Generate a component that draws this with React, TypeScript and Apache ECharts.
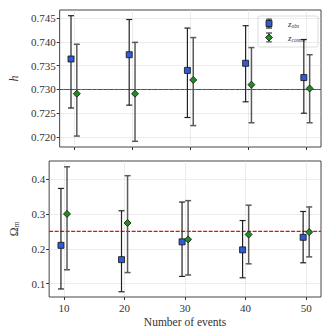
import React, { useEffect, useRef } from "react";
import * as echarts from "echarts";

const xEvents = [10, 20, 30, 40, 50];
const xTicks = [10, 20, 30, 40, 50];
const hTicks = [0.72, 0.725, 0.73, 0.735, 0.74, 0.745];
const omTicks = [0.1, 0.2, 0.3, 0.4];

const hObs = [0.7364, 0.7373, 0.734, 0.7355, 0.7325];
const hObsLo = [0.7261, 0.7267, 0.7241, 0.7274, 0.725];
const hObsHi = [0.7455, 0.7447, 0.7429, 0.7434, 0.7405];
const hCos = [0.7291, 0.7291, 0.732, 0.731, 0.7302];
const hCosLo = [0.7202, 0.7191, 0.7224, 0.723, 0.723];
const hCosHi = [0.7395, 0.7399, 0.7409, 0.7388, 0.7373];

const omObs = [0.21, 0.169, 0.22, 0.197, 0.233];
const omObsLo = [0.085, 0.077, 0.121, 0.117, 0.16];
const omObsHi = [0.373, 0.309, 0.334, 0.281, 0.307];
const omCos = [0.3, 0.274, 0.227, 0.241, 0.248];
const omCosLo = [0.14, 0.132, 0.125, 0.157, 0.177];
const omCosHi = [0.435, 0.4095, 0.338, 0.325, 0.32];

const hTrue = 0.73;
const omTrue = 0.25;
const offset = 0.5;

const FONT = "Liberation Serif";
const BLUE = "#2f5cd6";
const GREEN = "#1e8c1e";
const RED = "#e01010";

function errData(lo: number[], hi: number[], dx: number) {
  return xEvents.map((x, i) => [x + dx, lo[i], hi[i]]);
}
function ptData(vals: number[], dx: number) {
  return xEvents.map((x, i) => [x + dx, vals[i]]);
}

function errSeries(data: number[][], idx: number, color: string, width: number) {
  return {
    type: "custom",
    xAxisIndex: idx,
    yAxisIndex: idx,
    data,
    z: 3,
    renderItem: (params: any, api: any) => {
      const x = api.value(0);
      const p1 = api.coord([x, api.value(1)]);
      const p2 = api.coord([x, api.value(2)]);
      const cw = 3;
      const style = { stroke: color, lineWidth: width };
      return {
        type: "group",
        children: [
          { type: "line", shape: { x1: p1[0], y1: p1[1], x2: p2[0], y2: p2[1] }, style },
          { type: "line", shape: { x1: p1[0] - cw, y1: p1[1], x2: p1[0] + cw, y2: p1[1] }, style },
          { type: "line", shape: { x1: p2[0] - cw, y1: p2[1], x2: p2[0] + cw, y2: p2[1] }, style },
        ],
      };
    },
  };
}

function refLine(idx: number, y: number, withDark: boolean) {
  return {
    type: "custom",
    xAxisIndex: idx,
    yAxisIndex: idx,
    data: [[20, y]],
    z: 2,
    silent: true,
    renderItem: (params: any, api: any) => {
      const cs = params.coordSys;
      const p = api.coord([api.value(0), api.value(1)]);
      const children: any[] = [];
      if (withDark) {
        children.push({
          type: "line",
          shape: { x1: cs.x, y1: p[1], x2: cs.x + cs.width, y2: p[1] },
          style: { stroke: "#3a4a4a", lineWidth: 0.9, lineDash: [1.5, 4], lineDashOffset: -4 },
        });
      }
      children.push({
        type: "line",
        shape: { x1: cs.x, y1: p[1], x2: cs.x + cs.width, y2: p[1] },
        style: { stroke: RED, lineWidth: 1.1, lineDash: [4, 1.5] },
      });
      return { type: "group", children };
    },
  };
}

function xAxisCfg(idx: number, showLabels: boolean) {
  return {
    type: "value",
    gridIndex: idx,
    min: 7.55,
    max: 52.45,
    axisLine: { show: false },
    axisTick: { show: true, length: 3, customValues: xTicks, lineStyle: { color: "#333" } },
    splitLine: { show: true, lineStyle: { color: "#d0d0d0", type: "dotted", width: 0.8 } },
    axisLabel: {
      show: showLabels,
      customValues: xTicks,
      fontFamily: FONT,
      fontSize: 11,
      color: "#333",
      margin: 5,
    },
    name: showLabels ? "Number of events" : "",
    nameLocation: "middle",
    nameGap: 19,
    nameTextStyle: { fontFamily: FONT, fontSize: 11.5, color: "#333" },
  };
}

export default function App() {
  const ref = useRef<HTMLDivElement>(null);
  useEffect(() => {
    if (!ref.current) return;
    const chart = echarts.init(ref.current, null, { renderer: "svg" });
    const subRich = {
      i: { fontFamily: FONT, fontStyle: "italic", fontSize: 9, fill: "#333" },
      s: { fontFamily: FONT, fontStyle: "italic", fontSize: 5.5, fill: "#333", padding: [4, 0, 0, 0] },
    };
    const option: any = {
      animation: false,
      grid: [
        { left: 46, top: 10, width: 275, height: 137, show: true, borderColor: "#444", borderWidth: 1, backgroundColor: "transparent" },
        { left: 46, top: 161, width: 275, height: 136, show: true, borderColor: "#444", borderWidth: 1, backgroundColor: "transparent" },
      ],
      xAxis: [xAxisCfg(0, false), xAxisCfg(1, true)],
      yAxis: [
        {
          type: "value",
          gridIndex: 0,
          min: 0.7179,
          max: 0.7467,
          axisLine: { show: false },
          axisTick: { show: true, length: 3, customValues: hTicks, lineStyle: { color: "#333" } },
          splitLine: { show: true, lineStyle: { color: "#d0d0d0", type: "dotted", width: 0.8 } },
          axisLabel: {
            customValues: hTicks,
            fontFamily: FONT,
            fontSize: 11,
            color: "#333",
            margin: 4,
            formatter: (v: number) => v.toFixed(3),
          },
          name: "{i|h}",
          nameLocation: "middle",
          nameRotate: 90,
          nameGap: 32,
          nameTextStyle: { rich: { i: { fontFamily: FONT, fontStyle: "italic", fontSize: 12, color: "#333" } } },
        },
        {
          type: "value",
          gridIndex: 1,
          min: 0.062,
          max: 0.4516,
          axisLine: { show: false },
          axisTick: { show: true, length: 3, customValues: omTicks, lineStyle: { color: "#333" } },
          splitLine: { show: true, lineStyle: { color: "#d0d0d0", type: "dotted", width: 0.8 } },
          axisLabel: {
            customValues: omTicks,
            fontFamily: FONT,
            fontSize: 11,
            color: "#333",
            margin: 4,
            formatter: (v: number) => v.toFixed(1),
          },
          name: "{o|Ω}{s|m}",
          nameLocation: "middle",
          nameRotate: 90,
          nameGap: 22,
          nameTextStyle: {
            rich: {
              o: { fontFamily: FONT, fontSize: 12, color: "#333" },
              s: { fontFamily: FONT, fontStyle: "italic", fontSize: 8, color: "#333", padding: [5, 0, 0, 0] },
            },
          },
        },
      ],
      series: [
        refLine(0, hTrue, true),
        refLine(1, omTrue, false),
        errSeries(errData(hObsLo, hObsHi, -offset), 0, "#222", 1.2),
        errSeries(errData(hCosLo, hCosHi, offset), 0, "#5a5a5a", 1.5),
        errSeries(errData(omObsLo, omObsHi, -offset), 1, "#222", 1.2),
        errSeries(errData(omCosLo, omCosHi, offset), 1, "#5a5a5a", 1.5),
        {
          type: "scatter", xAxisIndex: 0, yAxisIndex: 0, z: 4,
          data: ptData(hObs, -offset), symbol: "rect", symbolSize: 6,
          itemStyle: { color: BLUE, borderColor: "#111", borderWidth: 0.8, opacity: 1 },
        },
        {
          type: "scatter", xAxisIndex: 0, yAxisIndex: 0, z: 4,
          data: ptData(hCos, offset), symbol: "diamond", symbolSize: 7,
          itemStyle: { color: GREEN, borderColor: "#111", borderWidth: 0.8, opacity: 1 },
        },
        {
          type: "scatter", xAxisIndex: 1, yAxisIndex: 1, z: 4,
          data: ptData(omObs, -offset), symbol: "rect", symbolSize: 6,
          itemStyle: { color: BLUE, borderColor: "#111", borderWidth: 0.8, opacity: 1 },
        },
        {
          type: "scatter", xAxisIndex: 1, yAxisIndex: 1, z: 4,
          data: ptData(omCos, offset), symbol: "diamond", symbolSize: 7,
          itemStyle: { color: GREEN, borderColor: "#111", borderWidth: 0.8, opacity: 1 },
        },
      ],
      graphic: [
        {
          type: "group",
          z: 100,
          children: [
            { type: "rect", shape: { x: 258, y: 16, width: 60, height: 31, r: 2 }, style: { fill: "rgba(255,255,255,0.85)", stroke: "#dddddd", lineWidth: 1 } },
            { type: "line", shape: { x1: 269, y1: 19, x2: 269, y2: 28 }, style: { stroke: "#222", lineWidth: 1.2 } },
            { type: "line", shape: { x1: 266, y1: 19, x2: 272, y2: 19 }, style: { stroke: "#222", lineWidth: 1.2 } },
            { type: "line", shape: { x1: 266, y1: 28, x2: 272, y2: 28 }, style: { stroke: "#222", lineWidth: 1.2 } },
            { type: "rect", shape: { x: 266, y: 20.5, width: 6, height: 6 }, style: { fill: BLUE, stroke: "#111", lineWidth: 0.8 } },
            { type: "line", shape: { x1: 269, y1: 33, x2: 269, y2: 42 }, style: { stroke: "#5a5a5a", lineWidth: 1.4 } },
            { type: "line", shape: { x1: 266, y1: 33, x2: 272, y2: 33 }, style: { stroke: "#5a5a5a", lineWidth: 1.4 } },
            { type: "line", shape: { x1: 266, y1: 42, x2: 272, y2: 42 }, style: { stroke: "#5a5a5a", lineWidth: 1.4 } },
            { type: "polygon", shape: { points: [[269, 34], [272.5, 37.5], [269, 41], [265.5, 37.5]] }, style: { fill: GREEN, stroke: "#111", lineWidth: 0.8 } },
            { type: "text", x: 288, y: 24, style: { text: "{i|z}{s|obs}", verticalAlign: "middle", rich: subRich } },
            { type: "text", x: 288, y: 38, style: { text: "{i|z}{s|cosmo}", verticalAlign: "middle", rich: subRich } },
          ],
        },
      ],
    };
    chart.setOption(option);
    return () => chart.dispose();
  }, []);
  return <div ref={ref} style={{ width: 332, height: 332, position: "absolute", left: 0, top: 0 }} />;
}
